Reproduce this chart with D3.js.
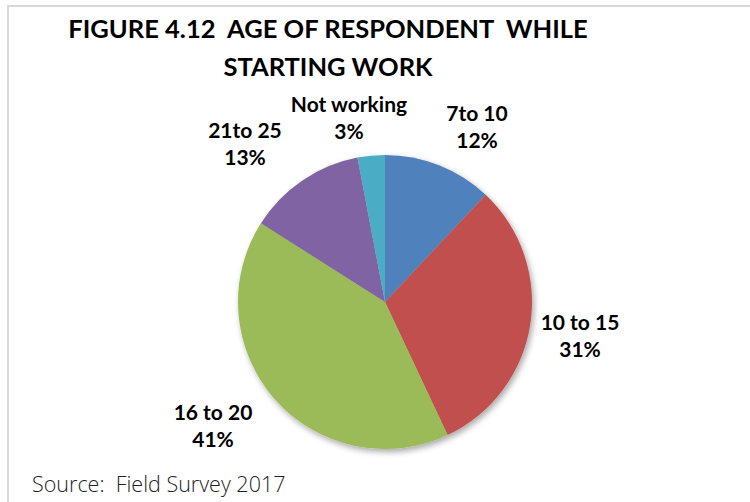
<!DOCTYPE html>
<html>
<head>
<meta charset="utf-8">
<script src="https://cdn.jsdelivr.net/npm/d3@7"></script>
<style>
  html, body { margin: 0; padding: 0; background: #fff; }
  svg { display: block; }
  text { white-space: pre; }
</style>
</head>
<body>
<svg id="chart" width="750" height="502"></svg>
<script>
// Age at which respondents started work (share of respondents, %)
const categories = ["7to 10", "10 to 15", "16 to 20", "21to 25", "Not working"];
const shares = [12, 31, 41, 13, 3];
const sliceColors = ["#4F81BD", "#C0504D", "#9BBB59", "#8064A2", "#4BACC6"];
const titleLines = ["FIGURE 4.12  AGE OF RESPONDENT  WHILE", "STARTING WORK"];
const sourceNote = "Source:  Field Survey 2017";

const svg = d3.select("#chart");
const W = 750, H = 502;

// chart frame (top and left edges visible)
svg.append("path")
  .attr("d", `M8,${H} V6 H${W}`)
  .attr("fill", "none")
  .attr("stroke", "#d9d9d9")
  .attr("stroke-width", 2);

// title
const title = svg.append("text")
  .attr("text-anchor", "middle")
  .attr("font-family", "Lato, 'Open Sans', sans-serif")
  .attr("font-weight", "bold")
  .attr("font-size", 25.5)
  .attr("fill", "#000");
title.selectAll("tspan").data(titleLines).join("tspan")
  .attr("x", 328)
  .attr("y", (d, i) => 38 + i * 38)
  .text(d => d);

// soft drop shadow under the pie
const defs = svg.append("defs");
const f = defs.append("filter").attr("id", "pieShadow")
  .attr("x", "-20%").attr("y", "-20%").attr("width", "140%").attr("height", "140%");
f.append("feGaussianBlur").attr("in", "SourceAlpha").attr("stdDeviation", 3).attr("result", "b");
f.append("feOffset").attr("in", "b").attr("dx", 2).attr("dy", 3).attr("result", "o");
f.append("feComponentTransfer").attr("in", "o").attr("result", "s")
  .append("feFuncA").attr("type", "linear").attr("slope", 0.35);
const fm = f.append("feMerge");
fm.append("feMergeNode").attr("in", "s");
fm.append("feMergeNode").attr("in", "SourceGraphic");

const cx = 385, cy = 302, R = 147;
const color = d3.scaleOrdinal().domain(categories).range(sliceColors);
const pie = d3.pie().sort(null).value(d => d.value);
const arcs = pie(categories.map((c, i) => ({ name: c, value: shares[i] })));
const arc = d3.arc().innerRadius(0).outerRadius(R);

const g = svg.append("g").attr("transform", `translate(${cx},${cy})`);
g.append("g").attr("filter", "url(#pieShadow)")
  .selectAll("path").data(arcs).join("path")
  .attr("d", arc)
  .attr("fill", d => color(d.data.name))
  .attr("stroke", "none");

// data labels: category and percentage, placed outside each slice
const labelPos = {
  "7to 10":      [477, 121],
  "10 to 15":    [580, 330],
  "16 to 20":    [213, 420],
  "21to 25":     [245, 138],
  "Not working": [349, 112]
};
const labels = svg.append("g")
  .attr("font-family", "Lato, 'Open Sans', sans-serif")
  .attr("font-weight", "bold")
  .attr("font-size", 21)
  .attr("fill", "#000")
  .attr("text-anchor", "middle");
arcs.forEach(a => {
  const [x, y] = labelPos[a.data.name];
  const t = labels.append("text");
  t.append("tspan").attr("x", x).attr("y", y).text(a.data.name);
  t.append("tspan").attr("x", x).attr("y", y + 27).text(a.data.value + "%");
});

// source note
svg.append("text")
  .attr("x", 32)
  .attr("y", 492)
  .attr("font-family", "'Open Sans', Lato, sans-serif")
  .attr("font-weight", 300)
  .attr("font-size", 21.5)
  .attr("fill", "#222")
  .text(sourceNote);
</script>
</body>
</html>
